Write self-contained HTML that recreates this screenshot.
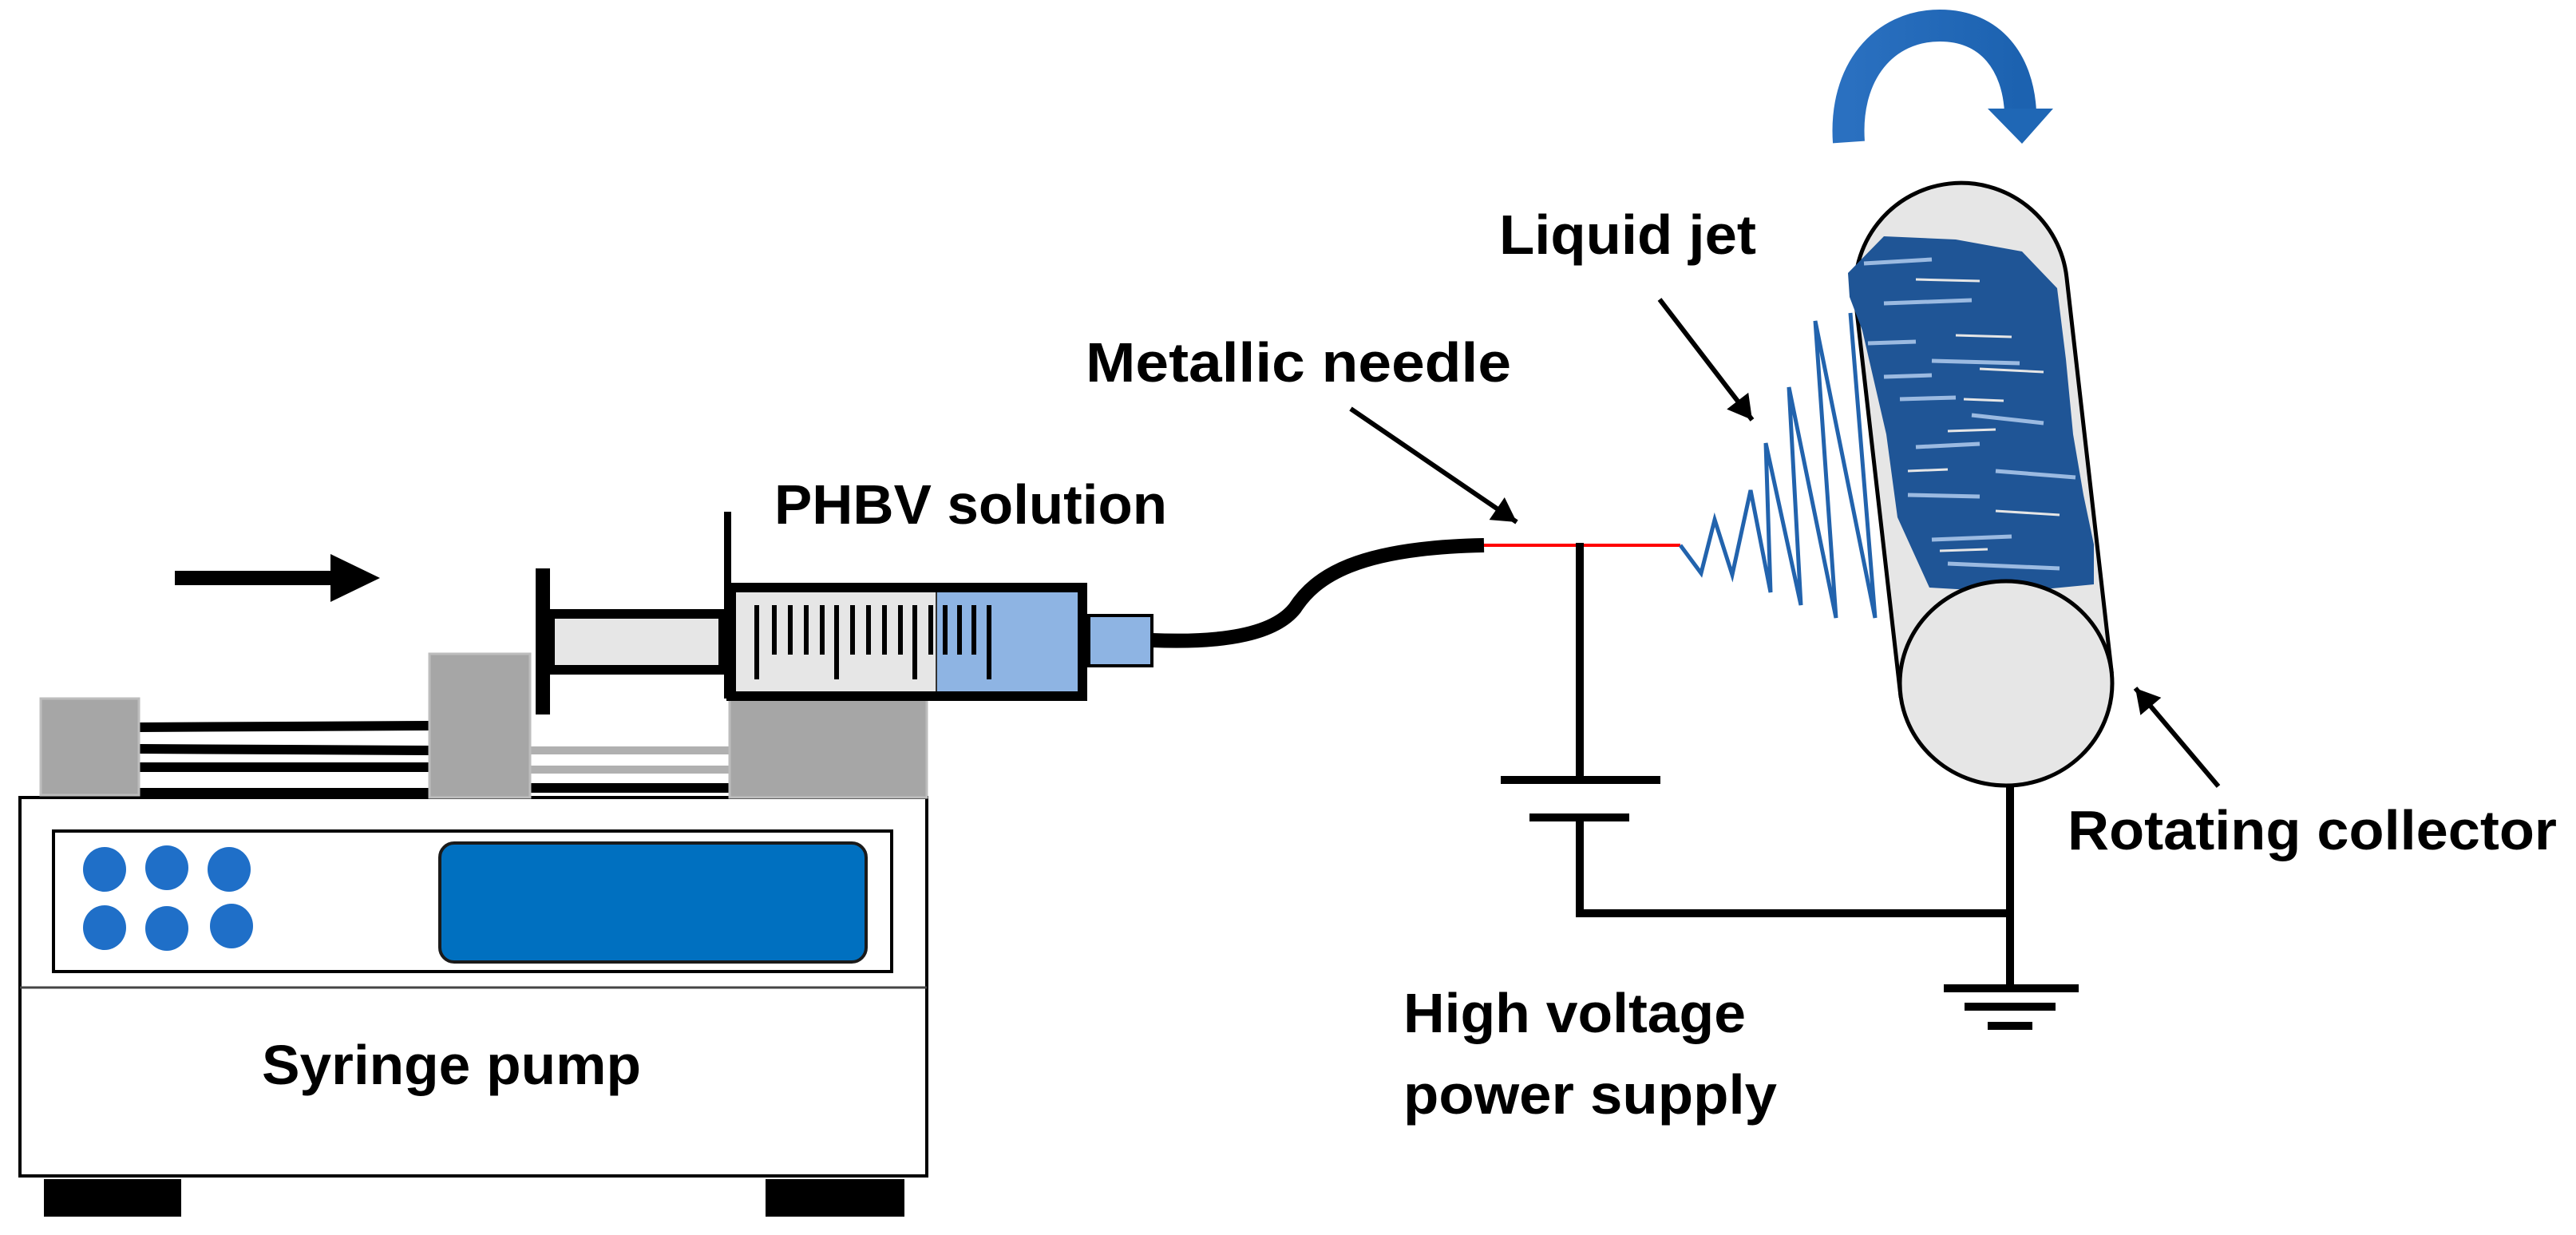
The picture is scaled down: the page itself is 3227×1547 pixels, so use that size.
<!DOCTYPE html>
<html><head><meta charset="utf-8"><style>
html,body{margin:0;padding:0;background:#fff;}
svg{display:block;}
text{font-family:"Liberation Sans",sans-serif;font-weight:bold;fill:#000;}
</style></head><body>
<svg width="3227" height="1547" viewBox="0 0 3227 1547" xmlns="http://www.w3.org/2000/svg">
<defs>
<marker id="ah" markerWidth="10" markerHeight="10" refX="8" refY="5" orient="auto" markerUnits="userSpaceOnUse" viewBox="0 0 10 10" style="overflow:visible">
<path d="M-22,-12 L8,5 L-22,22 Z" transform="translate(0,0)"/>
</marker>
<linearGradient id="rg" x1="0" y1="0" x2="1" y2="0"><stop offset="0" stop-color="#2a70c0"/><stop offset="1" stop-color="#1c62b0"/></linearGradient>
</defs>

<!-- Pump arrow -->
<rect x="219" y="715" width="200" height="18"/>
<polygon points="414,694 476,724 414,754"/>

<!-- Pump body -->
<rect x="25" y="999" width="1136" height="474" fill="#fff" stroke="#000" stroke-width="4"/>
<line x1="25" y1="1237" x2="1161" y2="1237" stroke="#444" stroke-width="3"/>
<rect x="67" y="1041" width="1050" height="176" fill="#fff" stroke="#000" stroke-width="4"/>
<g fill="#1f6fc8">
<ellipse cx="131" cy="1089" rx="27" ry="28"/><ellipse cx="209" cy="1087" rx="27" ry="28"/><ellipse cx="287" cy="1089" rx="27" ry="28"/>
<ellipse cx="131" cy="1162" rx="27" ry="28"/><ellipse cx="209" cy="1163" rx="27" ry="28"/><ellipse cx="290" cy="1160" rx="27" ry="28"/>
</g>
<rect x="551" y="1056" width="534" height="149" rx="18" fill="#0070c0" stroke="#1a1a1a" stroke-width="4"/>
<rect x="55" y="1477" width="172" height="47"/>
<rect x="959" y="1477" width="174" height="47"/>

<!-- rods -->
<g stroke="#000" stroke-width="12">
<line x1="174" y1="911" x2="538" y2="909"/>
<line x1="174" y1="938" x2="538" y2="940"/>
<line x1="174" y1="961" x2="538" y2="961"/>
<line x1="174" y1="993" x2="538" y2="993"/>
<line x1="664" y1="987" x2="914" y2="987"/>
</g>
<g stroke="#b0b0b0" stroke-width="10">
<line x1="664" y1="940" x2="914" y2="940"/>
<line x1="664" y1="964" x2="914" y2="964"/>
</g>
<!-- blocks -->
<rect x="51" y="875" width="123" height="121" fill="#a6a6a6" stroke="#bdbdbd" stroke-width="3"/>
<rect x="538" y="819" width="126" height="180" fill="#a6a6a6" stroke="#bdbdbd" stroke-width="3"/>
<rect x="914" y="875" width="247" height="124" fill="#a6a6a6" stroke="#bdbdbd" stroke-width="3"/>

<!-- plunger -->
<rect x="689" y="769" width="217" height="70" fill="#e6e6e6" stroke="#000" stroke-width="12"/>
<rect x="671" y="712" width="18" height="183"/>
<!-- barrel -->
<rect x="916" y="736" width="440" height="136" fill="#e6e6e6" stroke="#000" stroke-width="12"/>
<rect x="1173" y="742" width="177" height="124" fill="#8eb4e3"/>
<line x1="1173" y1="742" x2="1173" y2="866" stroke="#333" stroke-width="2"/>
<rect x="907" y="641" width="9" height="234"/>
<g stroke="#000" stroke-width="6">
<line x1="948" y1="758" x2="948" y2="851"/>
<line x1="970" y1="758" x2="970" y2="820"/><line x1="990" y1="758" x2="990" y2="820"/><line x1="1010" y1="758" x2="1010" y2="820"/><line x1="1030" y1="758" x2="1030" y2="820"/>
<line x1="1048" y1="758" x2="1048" y2="851"/>
<line x1="1068" y1="758" x2="1068" y2="820"/><line x1="1088" y1="758" x2="1088" y2="820"/><line x1="1108" y1="758" x2="1108" y2="820"/><line x1="1128" y1="758" x2="1128" y2="820"/>
<line x1="1146" y1="758" x2="1146" y2="851"/>
<line x1="1166" y1="758" x2="1166" y2="820"/><line x1="1184" y1="758" x2="1184" y2="820"/><line x1="1202" y1="758" x2="1202" y2="820"/><line x1="1220" y1="758" x2="1220" y2="820"/>
<line x1="1239" y1="758" x2="1239" y2="851"/>
</g>
<!-- nozzle -->
<rect x="1364" y="771" width="79" height="63" fill="#8eb4e3" stroke="#000" stroke-width="4"/>
<!-- tube -->
<path d="M1443 802 C1540 806 1598 792 1622 762 C1648 722 1700 686 1859 683" fill="none" stroke="#000" stroke-width="18"/>
<!-- needle -->
<line x1="1859" y1="683" x2="2105" y2="683" stroke="#ff0000" stroke-width="4"/>

<!-- circuit -->
<g stroke="#000" stroke-width="10" fill="none">
<polyline points="1979,680 1979,977"/>
<line x1="1880" y1="977" x2="2080" y2="977"/>
<line x1="1916" y1="1024" x2="2041" y2="1024"/>
<polyline points="1979,1024 1979,1144 2518,1144"/>
<line x1="2518" y1="983" x2="2518" y2="1238"/>
<line x1="2435" y1="1238" x2="2604" y2="1238"/>
<line x1="2461" y1="1261" x2="2575" y2="1261"/>
<line x1="2490" y1="1285" x2="2546" y2="1285"/>
</g>

<!-- jet -->
<polyline points="2105,683 2131,718 2148,651 2170,720 2193,614 2218,742 2212,555 2256,758 2241,485 2300,774 2274,402 2349,774 2318,392" fill="none" stroke="#2263ad" stroke-width="5" stroke-linejoin="miter"/>

<!-- cylinder -->
<g transform="translate(2513,856) rotate(-6.5)">
<path d="M-133 0 L-133 -497 A133 133 0 0 1 133 -497 L133 0 Z" fill="#e6e6e6" stroke="#000" stroke-width="5"/>
</g>
<polygon points="2315,342 2360,296 2450,300 2533,315 2577,361 2588,450 2597,544 2610,620 2623,682 2623,732 2520,742 2417,736 2377,648 2363,544 2333,414 2317,372" fill="#1f5596"/>
<g stroke="#a9c6ea" stroke-width="5" fill="none" opacity="0.9">
<path d="M2335 330 L2420 325"/><path d="M2360 380 L2470 376"/><path d="M2340 430 L2400 428"/>
<path d="M2420 452 L2530 455"/><path d="M2380 500 L2450 498"/><path d="M2470 520 L2560 530"/>
<path d="M2400 560 L2480 556"/><path d="M2500 590 L2600 598"/><path d="M2390 620 L2480 622"/>
<path d="M2420 676 L2520 672"/><path d="M2440 706 L2580 712"/><path d="M2360 472 L2420 470"/>
</g>
<g stroke="#e6e6e6" stroke-width="3" fill="none">
<path d="M2400 350 L2480 352"/><path d="M2450 420 L2520 422"/><path d="M2480 462 L2560 466"/>
<path d="M2440 540 L2500 538"/><path d="M2500 640 L2580 645"/><path d="M2390 590 L2440 588"/>
<path d="M2460 500 L2510 502"/><path d="M2430 690 L2490 688"/>
</g>
<ellipse cx="2513" cy="856" rx="133" ry="128" fill="#e6e6e6" stroke="#000" stroke-width="5"/>

<!-- rotation arrow -->
<path d="M2316 178 C2310 90 2360 32 2430 32 C2495 32 2528 80 2531 140" fill="none" stroke="url(#rg)" stroke-width="40"/>
<polygon points="2490,136 2572,136 2533,180" fill="#1f67b5"/>

<!-- leaders -->
<g stroke="#000" stroke-width="6">
<line x1="1692" y1="512" x2="1900" y2="654" marker-end="url(#ah)"/>
<line x1="2079" y1="375" x2="2195" y2="526" marker-end="url(#ah)"/>
<line x1="2779" y1="985" x2="2675" y2="862" marker-end="url(#ah)"/>
</g>

<!-- labels -->
<text x="970" y="656" font-size="70" textLength="492" lengthAdjust="spacingAndGlyphs">PHBV solution</text>
<text x="1360" y="478" font-size="70" textLength="533" lengthAdjust="spacingAndGlyphs">Metallic needle</text>
<text x="1878" y="318" font-size="70" textLength="322" lengthAdjust="spacingAndGlyphs">Liquid jet</text>
<text x="2590" y="1064" font-size="70" textLength="613" lengthAdjust="spacingAndGlyphs">Rotating collector</text>
<text x="1758" y="1293" font-size="70" textLength="429" lengthAdjust="spacingAndGlyphs">High voltage</text>
<text x="1758" y="1395" font-size="70" textLength="468" lengthAdjust="spacingAndGlyphs">power supply</text>
<text x="328" y="1358" font-size="70" textLength="475" lengthAdjust="spacingAndGlyphs">Syringe pump</text>
</svg>
</body></html>
